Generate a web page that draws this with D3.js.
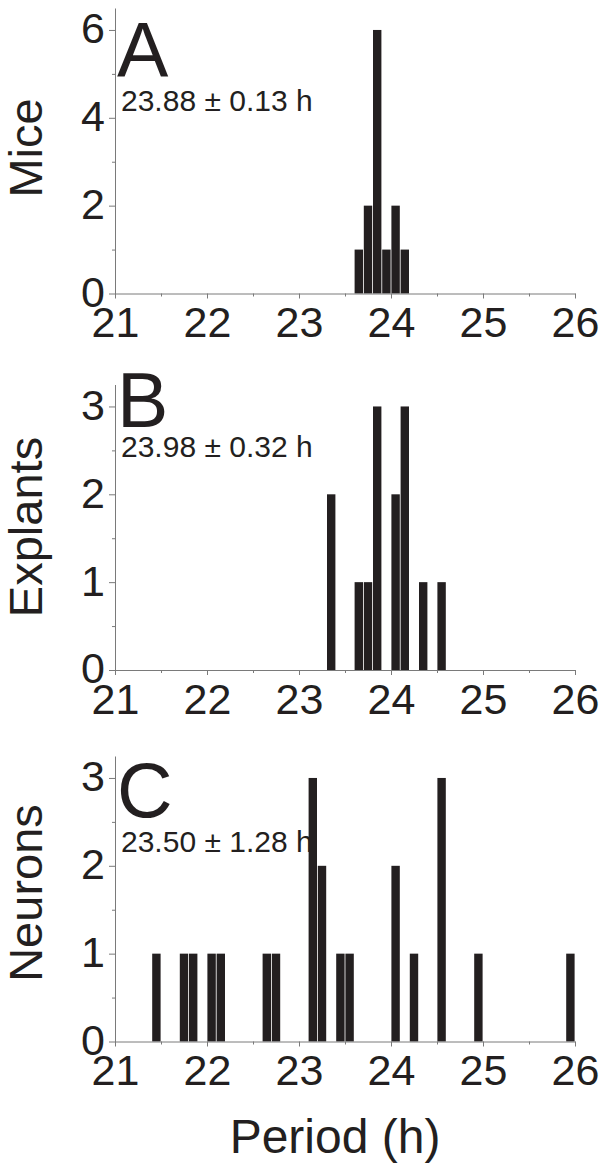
<!DOCTYPE html>
<html>
<head>
<meta charset="utf-8">
<script src="https://cdn.jsdelivr.net/npm/d3@7"></script>
<style>
  html, body { margin: 0; padding: 0; background: #fff; }
  svg text { font-family: "Liberation Sans", Arial, sans-serif; fill: #231f20; }
</style>
</head>
<body>
<svg id="chart" width="601" height="1165"></svg>
<script>
// Histogram data: left edge of each 0.1 h bin and its count
const miceBins = [23.6, 23.7, 23.8, 23.9, 24.0, 24.1];
const miceCounts = [1, 2, 6, 1, 2, 1];

const explantBins = [23.3, 23.6, 23.7, 23.8, 24.0, 24.1, 24.3, 24.5];
const explantCounts = [2, 1, 1, 3, 2, 3, 1, 1];

const neuronBins = [21.4, 21.7, 21.8, 22.0, 22.1, 22.6, 22.7, 23.1, 23.2, 23.4, 23.5, 24.0, 24.2, 24.5, 24.9, 25.9];
const neuronCounts = [1, 1, 1, 1, 1, 1, 1, 3, 2, 1, 1, 2, 1, 3, 1, 1];

const binWidth = 0.1;
const xTicks = [21, 22, 23, 24, 25, 26];
const xMinorTicks = [21.5, 22.5, 23.5, 24.5, 25.5];

const panelLetters = ["A", "B", "C"];
const panelLabels = ["Mice", "Explants", "Neurons"];
const panelStats = ["23.88 \u00b1 0.13 h", "23.98 \u00b1 0.32 h", "23.50 \u00b1 1.28 h"];
const yMax = [6.5, 3.25, 3.25];
const yTicks = [[0, 2, 4, 6], [0, 1, 2, 3], [0, 1, 2, 3]];
const yMinorTicks = [[1, 3, 5], [0.5, 1.5, 2.5], [0.5, 1.5, 2.5]];
const xTitle = "Period (h)";

const svg = d3.select("#chart");
const barColor = "#231f20";
const axisColor = "#7a7a7a";

// layout of each panel (zero line and axis top in pixels)
const left = 115, right = 575;
const panels = [
  { bins: miceBins, counts: miceCounts, zero: 293.5, top: 8, letterY: 77, statY: 111, labelY: 148 },
  { bins: explantBins, counts: explantCounts, zero: 670, top: 384.5, letterY: 427, statY: 457, labelY: 527 },
  { bins: neuronBins, counts: neuronCounts, zero: 1041.5, top: 756, letterY: 817, statY: 852, labelY: 893 }
];

const x = d3.scaleLinear().domain([21, 26]).range([left, right]);

panels.forEach((p, i) => {
  const y = d3.scaleLinear().domain([0, yMax[i]]).range([p.zero, p.top]);
  const g = svg.append("g");

  // bars
  g.selectAll("rect")
    .data(p.bins.map((b, j) => ({ bin: b, count: p.counts[j] })))
    .enter().append("rect")
    .attr("x", d => x(d.bin) + 0.4)
    .attr("width", d => x(d.bin + binWidth) - x(d.bin) - 0.8)
    .attr("y", d => y(d.count))
    .attr("height", d => y(0) - y(d.count))
    .attr("fill", barColor);

  // y axis: major ticks with labels, minor ticks without
  const yAxis = g.append("g").attr("transform", `translate(${left},0)`)
    .call(d3.axisLeft(y).tickValues(yTicks[i]).tickSize(6).tickSizeOuter(0).tickPadding(4).tickFormat(d3.format("d")));
  g.append("g").attr("transform", `translate(${left},0)`)
    .call(d3.axisLeft(y).tickValues(yMinorTicks[i]).tickSize(3).tickSizeOuter(0).tickFormat(""))
    .select(".domain").remove();

  // x axis
  const xAxis = g.append("g").attr("transform", `translate(0,${p.zero})`)
    .call(d3.axisBottom(x).tickValues(xTicks).tickSize(5).tickSizeOuter(0).tickPadding(8).tickFormat(d3.format("d")));
  g.append("g").attr("transform", `translate(0,${p.zero})`)
    .call(d3.axisBottom(x).tickValues(xMinorTicks).tickSize(3).tickSizeOuter(0).tickFormat(""))
    .select(".domain").remove();

  g.selectAll(".domain, .tick line").attr("stroke", axisColor).attr("stroke-width", 1);
  yAxis.selectAll("text").style("font-size", "43px").attr("dy", "0.3em").attr("fill", barColor);
  xAxis.selectAll("text").style("font-size", "43px").attr("dy", "0.71em").attr("fill", barColor);

  // panel letter and mean +- sd
  g.append("text").attr("x", 117).attr("y", p.letterY)
    .style("font-size", "77px").text(panelLetters[i]);
  g.append("text").attr("x", 121).attr("y", p.statY)
    .style("font-size", "30px").text(panelStats[i]);

  // y label
  g.append("text")
    .attr("transform", `translate(42,${p.labelY}) rotate(-90)`)
    .attr("text-anchor", "middle")
    .style("font-size", "47px")
    .text(panelLabels[i]);
});

svg.append("text")
  .attr("x", 335).attr("y", 1153)
  .attr("text-anchor", "middle")
  .style("font-size", "48px")
  .text(xTitle);
</script>
</body>
</html>
